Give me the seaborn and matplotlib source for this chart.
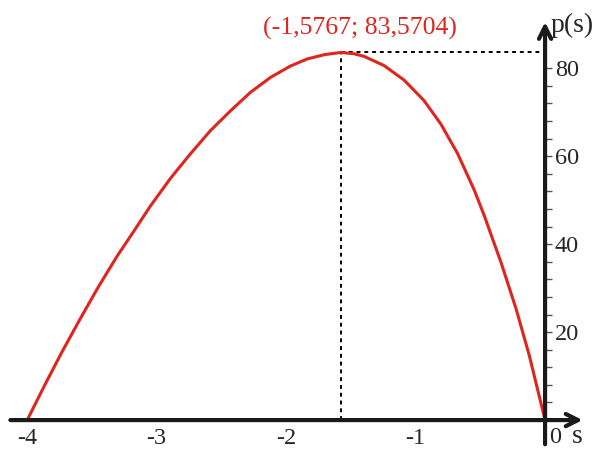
import matplotlib
matplotlib.use("Agg")
import matplotlib.pyplot as plt
import seaborn as sns
from matplotlib.ticker import FixedLocator
from pandas import DataFrame

# values
s_values = [-4.0, -3.862, -3.733, -3.591, -3.450, -3.307, -3.166, -3.050, -2.895,
            -2.740, -2.585, -2.430, -2.276, -2.121, -1.966, -1.837, -1.70,
            -1.5767, -1.48, -1.399, -1.244, -1.089, -0.934, -0.805, -0.676,
            -0.547, -0.470, -0.341, -0.224, -0.122, 0.0]
p_values = [0.0, 8.1, 15.4, 23.0, 30.3, 37.2, 43.4, 48.6, 54.9,
            60.5, 65.8, 70.3, 74.5, 77.9, 80.5, 82.1, 83.1,
            83.5704, 83.3, 82.7, 80.6, 77.3, 72.6, 67.3, 60.6,
            52.3, 46.5, 35.9, 25.3, 14.7, 0.0]
peak_s = -1.5767
peak_p = 83.5704
peak_label = "(-1,5767; 83,5704)"
x_ticks = [-4, -3, -2, -1]
y_ticks = [20, 40, 60, 80]

sns.set_style("white")
plt.rcParams["font.family"] = ["Liberation Serif", "DejaVu Serif"]

fig = plt.figure(figsize=(6.08, 4.5), dpi=100)
ax = fig.add_axes([0, 0, 1, 1])
ax.set_xlim(-4.21, 0.486)
ax.set_ylim(-6.8, 95.5)

df = DataFrame({"s": s_values, "p": p_values})
sns.lineplot(data=df, x="s", y="p", ax=ax, color="#e0241e", linewidth=2.2,
             sort=False, estimator=None, zorder=3)

# dotted guides to the maximum
ax.plot([peak_s, peak_s], [0, peak_p], color="black", linestyle=(0, (2, 2)), linewidth=1.4)
ax.plot([peak_s, 0], [peak_p, peak_p], color="black", linestyle=(0, (2, 2)), linewidth=1.4)
ax.text(-1.43, 86.3, peak_label, color="#e0241e", fontsize=18.5, ha="center", va="bottom")

# axes through the origin, drawn as arrows
for side in ["left", "top", "bottom", "right"]:
    ax.spines[side].set_visible(False)
ax.spines["bottom"].set_position(("data", 0))
ax.spines["right"].set_position(("data", 0))
ax.annotate("", xy=(0.29, 0), xytext=(-4.13, 0),
            arrowprops=dict(arrowstyle="->", lw=3, color="#1a1a1a", mutation_scale=22,
                            shrinkA=0, shrinkB=0))
ax.annotate("", xy=(0, 90.5), xytext=(0, -5.5),
            arrowprops=dict(arrowstyle="->", lw=3, color="#1a1a1a", mutation_scale=22,
                            shrinkA=0, shrinkB=0))

ax.yaxis.tick_right()
ax.xaxis.set_major_locator(FixedLocator(x_ticks))
ax.xaxis.set_minor_locator(FixedLocator([-4 + 0.2 * i for i in range(1, 20)]))
ax.yaxis.set_major_locator(FixedLocator(y_ticks))
ax.yaxis.set_minor_locator(FixedLocator([4 * i for i in range(1, 21)]))
ax.set_xticklabels([str(t) for t in x_ticks])
ax.set_yticklabels([str(t) for t in y_ticks])
ax.tick_params(axis="x", which="both", direction="out", length=5, width=1,
               color="#555555", labelsize=17.5, pad=1)
ax.tick_params(axis="y", which="both", direction="out", length=5, width=1,
               color="#555555", labelsize=17.5, pad=2)
ax.set_xlabel("")
ax.set_ylabel("")

ax.text(0.03, -1.6, "0", fontsize=17.5, ha="left", va="top")
ax.text(0.21, -0.9, "s", fontsize=20, ha="left", va="top")
ax.text(0.045, 89.8, "p(s)", fontsize=20, ha="left", va="center")

fig.savefig("out.png", dpi=100)
